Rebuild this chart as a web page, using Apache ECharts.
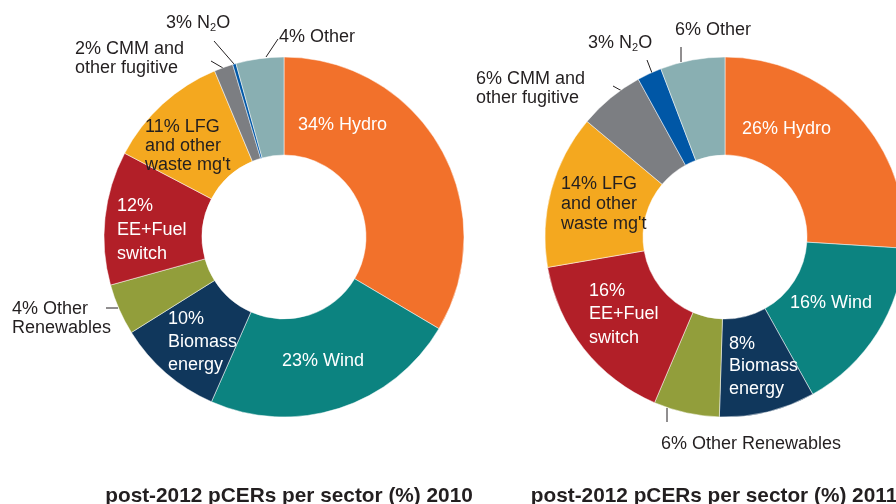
<!DOCTYPE html>
<html>
<head>
<meta charset="utf-8">
<script src="https://cdn.jsdelivr.net/npm/echarts@6/dist/echarts.min.js"></script>
<style>
  html, body { margin: 0; padding: 0; background: #fff; }
  #chart { width: 896px; height: 504px; }
</style>
</head>
<body>
<div id="chart"></div>
<script>
// data
const sectors = ['Hydro', 'Wind', 'Biomass energy', 'Other Renewables', 'EE+Fuel switch',
    "LFG and other waste mg't", 'CMM and other fugitive', 'N2O', 'Other'];
// slice sizes as drawn in the picture
const share2010 = [33.5, 23.1, 9.5, 4.6, 12.0, 11.0, 1.7, 0.3, 4.3];
const share2011 = [26.0, 15.9, 8.6, 5.9, 15.9, 13.8, 5.9, 2.2, 5.8];
// printed labels
const labels2010 = ['34% Hydro', '23% Wind', '10%\nBiomass\nenergy', '4% Other\nRenewables',
    '12%\nEE+Fuel\nswitch', "11% LFG\nand other\nwaste mg't", '2% CMM and\nother fugitive',
    '3% N{sub|2}O', '4% Other'];
const labels2011 = ['26% Hydro', '16% Wind', '8%\nBiomass\nenergy', '6% Other Renewables',
    '16%\nEE+Fuel\nswitch', "14% LFG\nand other\nwaste mg't", '6% CMM and\nother fugitive',
    '3% N{sub|2}O', '6% Other'];
const titles = ['post-2012 pCERs per sector (%) 2010', 'post-2012 pCERs per sector (%) 2011'];

const colors = ['#F2712B', '#0C8380', '#10375C', '#929E3B', '#B21F28',
    '#F4A81F', '#7C7E82', '#0057A6', '#89AFB2'];
const inside = [true, true, true, false, true, true, false, false, false];
const whiteText = [true, true, true, false, true, false, false, false, false];

// label placement: left x, top y, line height, leader line
const spots2010 = [
    { x: 298, y: 125, lh: 20 },
    { x: 282, y: 361, lh: 20 },
    { x: 168, y: 307.5, lh: 23, top: true },
    { x: 12, y: 299.5, lh: 19, top: true, line: [[106, 308], [118, 308]] },
    { x: 117, y: 194, lh: 24, top: true },
    { x: 145, y: 117.5, lh: 19, top: true },
    { x: 75, y: 40, lh: 19, top: true, line: [[211, 61], [223, 68]] },
    { x: 166, y: 23, lh: 20, line: [[214, 41], [234, 64]] },
    { x: 279, y: 37, lh: 20, line: [[278, 39], [266, 57]] }
];
const spots2011 = [
    { x: 742, y: 129, lh: 20 },
    { x: 790, y: 303, lh: 20 },
    { x: 729, y: 332.5, lh: 22.5, top: true },
    { x: 661, y: 444, lh: 20, line: [[667, 408], [667, 422]] },
    { x: 589, y: 279, lh: 23.5, top: true },
    { x: 561, y: 174, lh: 20, top: true },
    { x: 476, y: 70, lh: 19, top: true, line: [[613, 86], [622, 91]] },
    { x: 588, y: 43, lh: 20, line: [[647, 60], [652, 73]] },
    { x: 675, y: 30, lh: 20, line: [[681, 47], [681, 62]] }
];

const buildData = (values, labels, spots) => values.map((v, i) => ({
    name: sectors[i],
    value: v,
    itemStyle: { color: colors[i] },
    label: {
        formatter: labels[i],
        position: inside[i] ? 'inside' : 'outside',
        color: whiteText[i] ? '#fff' : '#231F20',
        lineHeight: spots[i].lh
    },
    labelLine: {
        show: !inside[i],
        lineStyle: { color: '#231F20', width: 1 }
    }
}));

const makeLayout = (spots) => (params) => {
    const s = spots[params.dataIndex];
    const out = {
        x: s.x,
        y: s.y,
        align: 'left',
        verticalAlign: s.top ? 'top' : 'middle'
    };
    if (s.line) {
        out.labelLinePoints = [s.line[0], s.line[1], s.line[1]];
    }
    return out;
};

const pieBase = {
    type: 'pie',
    radius: [82, 180],
    startAngle: 90,
    clockwise: true,
    avoidLabelOverlap: false,
    silent: true,
    itemStyle: { borderColor: '#fff', borderWidth: 0.5 },
    label: {
        fontFamily: 'Liberation Sans, Arial, sans-serif',
        fontSize: 18,
        rich: {
            sub: { fontSize: 11, padding: [9, 0, 0, 0], color: '#231F20' }
        }
    }
};

const titleStyle = {
    fontFamily: 'Liberation Sans, Arial, sans-serif',
    fontSize: 20.8,
    fontWeight: 'bold',
    color: '#231F20'
};

const chart = echarts.init(document.getElementById('chart'), null, { renderer: 'canvas' });

const option = {
    animation: false,
    title: [
        { text: titles[0], left: 284, top: 481, textAlign: 'center', textStyle: titleStyle },
        { text: titles[1], left: 709, top: 481, textAlign: 'center', textStyle: titleStyle }
    ],
    series: [
        Object.assign({}, pieBase, {
            center: [284, 237],
            data: buildData(share2010, labels2010, spots2010),
            labelLayout: makeLayout(spots2010)
        }),
        Object.assign({}, pieBase, {
            center: [725, 237],
            data: buildData(share2011, labels2011, spots2011),
            labelLayout: makeLayout(spots2011)
        })
    ]
};

chart.setOption(option);
</script>
</body>
</html>
